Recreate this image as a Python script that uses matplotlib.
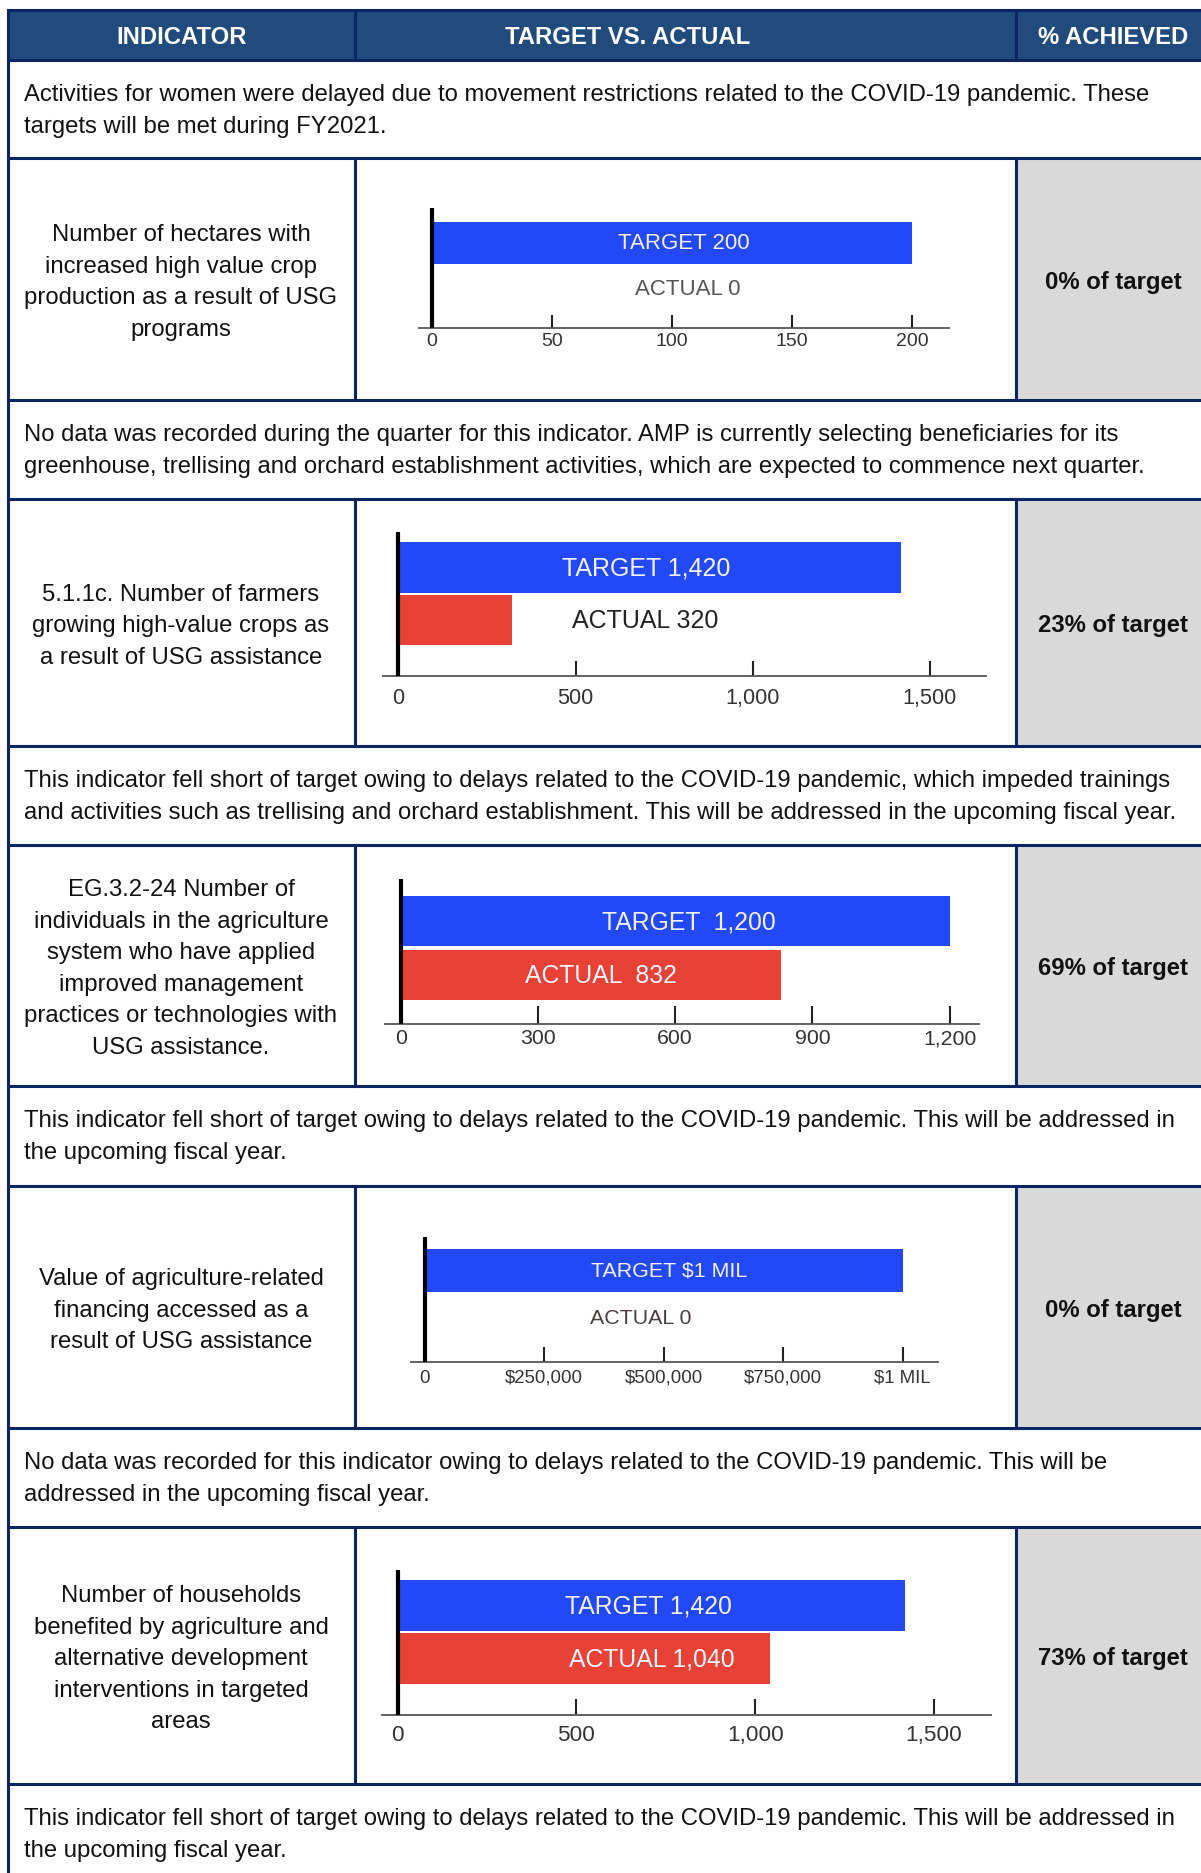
import matplotlib
matplotlib.use("Agg")
import matplotlib.pyplot as plt
from matplotlib.patches import Rectangle

W, H = 1201, 1874
plt.rcParams["font.family"] = ["Liberation Sans", "DejaVu Sans"]

# ---- data ----
headers = ["INDICATOR", "TARGET VS. ACTUAL", "% ACHIEVED"]

notes = [
    ["Activities for women were delayed due to movement restrictions related to the COVID-19 pandemic. These",
     "targets will be met during FY2021."],
    ["No data was recorded during the quarter for this indicator. AMP is currently selecting beneficiaries for its",
     "greenhouse, trellising and orchard establishment activities, which are expected to commence next quarter."],
    ["This indicator fell short of target owing to delays related to the COVID-19 pandemic, which impeded trainings",
     "and activities such as trellising and orchard establishment. This will be addressed in the upcoming fiscal year."],
    ["This indicator fell short of target owing to delays related to the COVID-19 pandemic. This will be addressed in",
     "the upcoming fiscal year."],
    ["No data was recorded for this indicator owing to delays related to the COVID-19 pandemic. This will be",
     "addressed in the upcoming fiscal year."],
    ["This indicator fell short of target owing to delays related to the COVID-19 pandemic. This will be addressed in",
     "the upcoming fiscal year."],
]

indicators = [
    ["Number of hectares with", "increased high value crop", "production as a result of USG", "programs"],
    ["5.1.1c. Number of farmers", "growing high-value crops as", "a result of USG assistance"],
    ["EG.3.2-24 Number of", "individuals in the agriculture", "system who have applied",
     "improved management", "practices or technologies with", "USG assistance."],
    ["Value of agriculture-related", "financing accessed as a", "result of USG assistance"],
    ["Number of households", "benefited by agriculture and", "alternative development",
     "interventions in targeted", "areas"],
]

targets = [200, 1420, 1200, 1000000, 1420]
actuals = [0, 320, 832, 0, 1040]
target_labels = ["TARGET 200", "TARGET 1,420", "TARGET  1,200", "TARGET $1 MIL", "TARGET 1,420"]
actual_labels = ["ACTUAL 0", "ACTUAL 320", "ACTUAL  832", "ACTUAL 0", "ACTUAL 1,040"]
tick_values = [
    [0, 50, 100, 150, 200],
    [0, 500, 1000, 1500],
    [0, 300, 600, 900, 1200],
    [0, 250000, 500000, 750000, 1000000],
    [0, 500, 1000, 1500],
]
tick_labels = [
    ["0", "50", "100", "150", "200"],
    ["0", "500", "1,000", "1,500"],
    ["0", "300", "600", "900", "1,200"],
    ["0", "$250,000", "$500,000", "$750,000", "$1 MIL"],
    ["0", "500", "1,000", "1,500"],
]

# ---- layout (pixels) ----
NAVY = "#0b2462"
HEAD = "#214a7d"
GRAY = "#d9d9d9"
BLUE = "#2349f6"
RED = "#e84236"
col_x = [8, 355, 1016]
hlines = [11, 61, 159, 401, 500, 747, 846, 1087, 1187, 1429, 1528, 1785]
note_rows = [(61, 159), (401, 500), (747, 846), (1087, 1187), (1429, 1528), (1785, 1874)]
ind_rows = [(159, 401), (500, 747), (846, 1087), (1187, 1429), (1528, 1785)]
FS = 17.2
LINE = 31.5

charts = [
    dict(zero=432, tmax=912, left=418.5, right=948.7, top=209, base=329, tc=244, pitch=45.5, bh=0.91,
         tlab=684, alab=688, lfs=16.0, tfs=14.0, tl=9.4, pad=3, tcol="#f2f2ff", acol="#555555"),
    dict(zero=398.5, tmax=929.7, left=383, right=985.7, top=533, base=677, tc=568.7, pitch=52.2, bh=0.97,
         tlab=646, alab=645, lfs=18.0, tfs=15.6, tl=10.8, pad=8, tcol="#f2f2ff", acol="#222222"),
    dict(zero=400.6, tmax=949.6, left=385, right=978.6, top=880, base=1025, tc=922.2, pitch=53.7, bh=0.94,
         tlab=689, alab=601, lfs=17.8, tfs=15.3, tl=13.0, pad=3, tcol="#f2f2ff", acol="#f7f7ff"),
    dict(zero=424.7, tmax=902.7, left=411.4, right=938.4, top=1237.7, base=1363, tc=1271.5, pitch=46.8, bh=0.93,
         tlab=669.5, alab=640.5, lfs=15.4, tfs=13.4, tl=10.8, pad=5, tcol="#f2f2ff", acol="#4a4040"),
    dict(zero=397.7, tmax=934, left=382.4, right=991, top=1570.7, base=1716, tc=1606.2, pitch=53, bh=0.96,
         tlab=648.8, alab=652, lfs=17.8, tfs=16.2, tl=11.5, pad=6.5, tcol="#f2f2ff", acol="#f7f7ff"),
]

fig = plt.figure(figsize=(W / 100, H / 100), dpi=100)
base = fig.add_axes([0, 0, 1, 1])
base.set_xlim(0, W)
base.set_ylim(H, 0)
base.axis("off")

# header
base.add_patch(Rectangle((col_x[0], hlines[0]), W - col_x[0], hlines[1] - hlines[0], color=HEAD, lw=0))
head_x = [182, 628, 1113]
for hx, txt in zip(head_x, headers):
    base.text(hx, (hlines[0] + hlines[1]) / 2 + 1, txt, ha="center", va="center", color="white",
              fontsize=FS, fontweight="bold")

# gray % column
for (y0, y1) in ind_rows:
    base.add_patch(Rectangle((col_x[2], y0), W - col_x[2], y1 - y0, color=GRAY, lw=0))

# borders
lw = 2.2
for y in hlines:
    base.plot([col_x[0], W], [y, y], color=NAVY, lw=lw, solid_capstyle="butt")
base.plot([col_x[0], col_x[0]], [hlines[0], H], color=NAVY, lw=lw)
for cx in col_x[1:]:
    base.plot([cx, cx], [hlines[0], hlines[1]], color=NAVY, lw=lw)
    for (y0, y1) in ind_rows:
        base.plot([cx, cx], [y0, y1], color=NAVY, lw=lw)

# notes
for (y0, y1), lines in zip(note_rows, notes):
    for i, ln in enumerate(lines):
        base.text(24, y0 + 40 + i * 32, ln, ha="left", va="baseline", color="#111111", fontsize=FS)

# indicators and % achieved
for (y0, y1), lines, t, a in zip(ind_rows, indicators, targets, actuals):
    yc = (y0 + y1) / 2
    n = len(lines)
    for i, ln in enumerate(lines):
        base.text(181, yc + (i - (n - 1) / 2) * LINE + 8.6, ln, ha="center", va="baseline",
                  color="#111111", fontsize=FS)
    pct = round(a / t * 100)
    base.text(1113, yc + 8.6, f"{pct}% of target", ha="center", va="baseline",
              color="#111111", fontsize=FS, fontweight="bold")

# charts
for k, g in enumerate(charts):
    xmax = tick_values[k][-1]
    u = xmax / (g["tmax"] - g["zero"])
    ax = fig.add_axes([g["left"] / W, 1 - g["base"] / H, (g["right"] - g["left"]) / W, (g["base"] - g["top"]) / H])
    ax.set_facecolor("none")
    ax.set_xlim((g["left"] - g["zero"]) * u, (g["right"] - g["zero"]) * u)
    ax.set_ylim((g["base"] - g["tc"]) / g["pitch"], (g["top"] - g["tc"]) / g["pitch"])
    ax.barh([0, 1], [targets[k], actuals[k]], height=g["bh"], color=[BLUE, RED], zorder=2)
    ax.axvline(0, color="black", lw=3, zorder=3)
    for s in ["top", "right", "left"]:
        ax.spines[s].set_visible(False)
    ax.spines["bottom"].set_color("#555555")
    ax.spines["bottom"].set_linewidth(1.3)
    ax.set_yticks([])
    ax.set_xticks(tick_values[k])
    ax.set_xticklabels(tick_labels[k])
    ax.tick_params(axis="x", direction="in", length=g["tl"], width=1.5, color="#222222",
                   labelsize=g["tfs"], labelcolor="#333333", pad=g["pad"])
    ax.text((g["tlab"] - g["zero"]) * u, 0, target_labels[k], ha="center", va="center",
            color=g["tcol"], fontsize=g["lfs"], zorder=4)
    ax.text((g["alab"] - g["zero"]) * u, 1, actual_labels[k], ha="center", va="center",
            color=g["acol"], fontsize=g["lfs"], zorder=4)

fig.savefig("out.png", dpi=100)
